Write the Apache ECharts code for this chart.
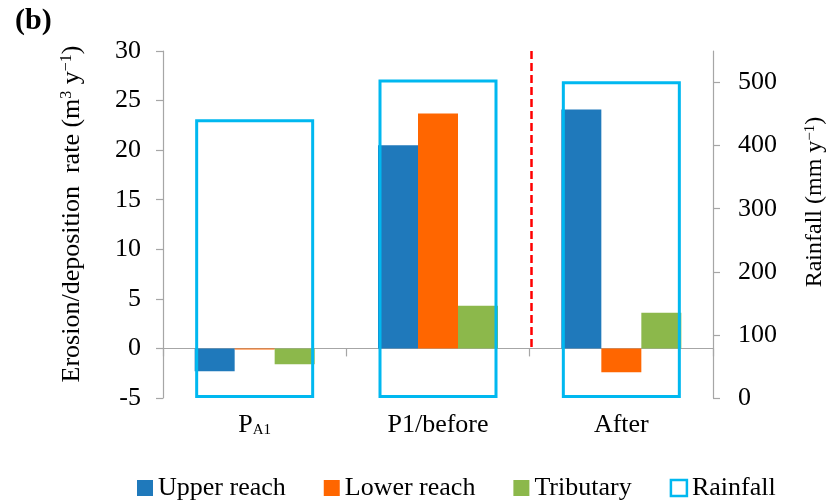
<!DOCTYPE html>
<html>
<head>
<meta charset="utf-8">
<script src="https://cdn.jsdelivr.net/npm/echarts@6/dist/echarts.min.js"></script>
<style>
  html, body { margin: 0; padding: 0; background: #fff; }
  #chart { width: 833px; height: 501px; }
</style>
</head>
<body>
<div id="chart"></div>
<script>
// Periods along the x axis
const categories = ['PA1', 'P1/before', 'After'];

// Erosion (-) / deposition (+) rate, m3 per year
const upperReach = [-2.3, 20.5, 24.1];
const lowerReach = [-0.1, 23.7, -2.4];
const tributary = [-1.6, 4.3, 3.6];

// Rainfall per period, mm per year
const rainfall = [442, 505, 502];

// Axis ticks
const leftTicks = [-5, 0, 5, 10, 15, 20, 25, 30];
const rightTicks = [0, 100, 200, 300, 400, 500];

// Position of the dashed separator between "P1/before" and "After" (category units)
const separatorAt = 2.01;

const FONT = '"Liberation Serif", "Times New Roman", serif';
const AXIS_GREY = '#a6a6a6';
const COLORS = { upper: '#1f79bb', lower: '#ff6600', trib: '#8cb84b', rain: '#00b8f0' };

const chart = echarts.init(document.getElementById('chart'), null, { renderer: 'canvas' });

const labelText = v => v.replace(/^P(A1)$/, '{p|P}{s|$1}');

chart.setOption({
  animation: false,
  backgroundColor: '#fff',
  textStyle: { fontFamily: FONT, color: '#000' },
  grid: { left: 163, right: 120, top: 51, bottom: 103, containLabel: false },
  legend: {
    left: 132,
    top: 470,
    itemWidth: 16,
    itemHeight: 16,
    itemGap: 38,
    textStyle: { fontFamily: FONT, fontSize: 26, color: '#000' },
    data: [
      { name: 'Upper reach', icon: 'rect' },
      { name: 'Lower reach', icon: 'rect' },
      { name: 'Tributary', icon: 'rect' },
      { name: 'Rainfall', icon: 'rect',
        itemStyle: { color: '#fff', borderColor: COLORS.rain, borderWidth: 2.5 } }
    ]
  },
  xAxis: [
    {
      // zero line with boundary ticks
      type: 'category',
      data: categories,
      position: 'bottom',
      axisLine: { show: true, onZero: true, onZeroAxisIndex: 0, lineStyle: { color: AXIS_GREY, width: 1.2 } },
      axisTick: { show: true, length: 8, lineStyle: { color: AXIS_GREY, width: 1.2 } },
      axisLabel: { show: false },
      splitLine: { show: false }
    },
    {
      // category labels along the bottom, carries the rainfall boxes
      type: 'category',
      data: categories,
      position: 'bottom',
      axisLine: { show: false, onZero: false },
      axisTick: { show: false },
      splitLine: { show: false },
      axisLabel: {
        margin: 14,
        fontFamily: FONT,
        fontSize: 26,
        color: '#000',
        formatter: labelText,
        rich: {
          p: { fontFamily: FONT, fontSize: 26, color: '#000', lineHeight: 26 },
          s: { fontFamily: FONT, fontSize: 15, color: '#000', lineHeight: 14, verticalAlign: 'bottom' }
        }
      }
    },
    {
      // continuous helper axis for the separator
      type: 'value', min: 0, max: 3, show: false
    }
  ],
  yAxis: [
    {
      type: 'value',
      min: -5, max: 30, interval: 5,
      position: 'left',
      axisLine: { show: true, lineStyle: { color: AXIS_GREY, width: 1.2 } },
      axisTick: { show: true, length: 7, lineStyle: { color: AXIS_GREY, width: 1.2 } },
      splitLine: { show: false },
      axisLabel: { margin: 22, fontFamily: FONT, fontSize: 26, color: '#000',
                   customValues: leftTicks }
    },
    {
      type: 'value',
      min: 0, max: 550, interval: 100,
      position: 'right',
      axisLine: { show: true, lineStyle: { color: AXIS_GREY, width: 1.2 } },
      axisTick: { show: true, length: 7, lineStyle: { color: AXIS_GREY, width: 1.2 },
                  customValues: rightTicks },
      splitLine: { show: false },
      axisLabel: { margin: 25, fontFamily: FONT, fontSize: 26, color: '#000',
                   customValues: rightTicks }
    }
  ],
  series: [
    {
      name: 'Upper reach', type: 'bar', xAxisIndex: 0, yAxisIndex: 0,
      barWidth: 40, barGap: '0%',
      itemStyle: { color: COLORS.upper },
      data: upperReach
    },
    {
      name: 'Lower reach', type: 'bar', xAxisIndex: 0, yAxisIndex: 0,
      barWidth: 40, barGap: '0%',
      itemStyle: { color: COLORS.lower },
      data: lowerReach
    },
    {
      name: 'Tributary', type: 'bar', xAxisIndex: 0, yAxisIndex: 0,
      barWidth: 40, barGap: '0%',
      itemStyle: { color: COLORS.trib },
      data: tributary
    },
    {
      name: 'Rainfall', type: 'bar', xAxisIndex: 1, yAxisIndex: 1,
      barWidth: 119, z: 5,
      itemStyle: { color: 'rgba(0,0,0,0)', borderColor: COLORS.rain, borderWidth: 3 },
      data: rainfall
    },
    {
      name: 'separator', type: 'line', xAxisIndex: 2, yAxisIndex: 0,
      data: [], silent: true,
      markLine: {
        silent: true,
        symbol: 'none',
        label: { show: false },
        lineStyle: { color: '#ff0000', width: 2.5, type: [8, 4] },
        data: [[{ coord: [separatorAt, 30] }, { coord: [separatorAt, 0] }]]
      }
    }
  ],
  graphic: [
    {
      type: 'text', left: 15, top: 6,
      style: { text: '(b)', font: 'bold 30px ' + FONT, fill: '#000' }
    },
    {
      type: 'text', x: 72, y: 214, rotation: Math.PI / 2,
      style: {
        text: 'Erosion/deposition  rate (m{sup|3} y{sup|−1})',
        font: '26px ' + FONT, fill: '#000',
        align: 'center', verticalAlign: 'middle',
        rich: {
          sup: { fontFamily: FONT, fontSize: 16, fill: '#000', lineHeight: 14, verticalAlign: 'top' }
        }
      }
    },
    {
      type: 'text', x: 815, y: 202, rotation: Math.PI / 2,
      style: {
        text: 'Rainfall (mm y{sup|−1})',
        font: '24px ' + FONT, fill: '#000',
        align: 'center', verticalAlign: 'middle',
        rich: {
          sup: { fontFamily: FONT, fontSize: 15, fill: '#000', lineHeight: 13, verticalAlign: 'top' }
        }
      }
    }
  ]
});
</script>
</body>
</html>
